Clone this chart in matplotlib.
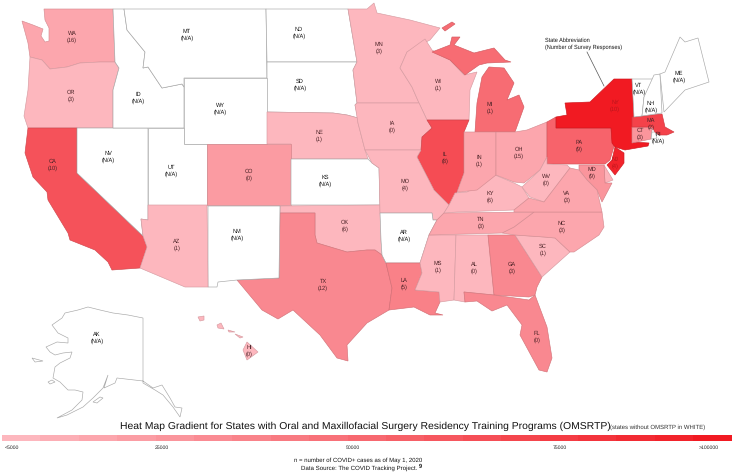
import matplotlib
matplotlib.use('Agg')
import matplotlib.pyplot as plt
from matplotlib.colors import LinearSegmentedColormap, Normalize, to_rgb
from matplotlib.patches import Polygon

plt.rcParams['font.family'] = ['Liberation Sans', 'DejaVu Sans']
plt.rcParams['text.hinting'] = 'none'

# Survey responses per state, None means no OMSRTP in that state
responses = {
    'WA': 16, 'OR': 3, 'CA': 10, 'CO': 0, 'NE': 1, 'OK': 6, 'AZ': 1, 'TX': 12, 'HI': 0,
    'MN': 3, 'WI': 1, 'MI': 1, 'IA': 0, 'IL': 8, 'IN': 1, 'OH': 15, 'MO': 4, 'KY': 6,
    'WV': 0, 'VA': 3, 'PA': 9, 'MD': 9, 'TN': 3, 'NC': 3, 'SC': 1, 'GA': 3, 'AL': 0,
    'MS': 1, 'LA': 5, 'FL': 0, 'NY': 10, 'NJ': 4, 'MA': 2, 'CT': 3,
}
no_program = ['ID', 'MT', 'ND', 'SD', 'WY', 'NV', 'UT', 'KS', 'NM', 'AR', 'AK', 'ME', 'VT', 'NH', 'RI']

# COVID+ cases
cases = {
    'NY': 100000, 'NJ': 90000, 'MA': 72000, 'IL': 66000, 'CA': 63000, 'PA': 53000, 'MI': 48000,
    'LA': 36000, 'TX': 32000, 'GA': 32000, 'FL': 32000, 'MD': 25000, 'CT': 25000, 'CO': 21000,
    'WA': 15000, 'OH': 15000, 'IN': 15000, 'VA': 15000, 'TN': 15000, 'NC': 15000, 'DE': 8000,
    'OR': 5000, 'AZ': 5000, 'NE': 5000, 'OK': 5000, 'MN': 5000, 'WI': 5000, 'IA': 5000,
    'MO': 5000, 'KY': 5000, 'WV': 5000, 'SC': 5000, 'AL': 5000, 'MS': 5000, 'HI': 5000,
}

legend_steps = [5000, 10000, 15000, 20000, 25000, 30000, 35000, 40000, 45000, 50000,
                55000, 60000, 65000, 70000, 75000, 80000, 85000, 90000, 95000]
legend_labels = ['<5000', '25000', '50000', '75000', '>100000']

# State outlines, traced in picture pixels
outlines = {
    'WA': [[(44, 9), (113, 9), (115, 62), (100, 62), (80, 63), (67, 67), (50, 69), (42, 60), (30, 57),
            (28, 43), (22, 21), (33, 25), (43, 29), (41, 36), (45, 42), (49, 41), (49, 28), (45, 20)]],
    'OR': [[(30, 57), (42, 60), (50, 69), (67, 67), (80, 63), (100, 62), (115, 62), (119, 68), (113, 90),
            (113, 128), (28, 128), (24, 116), (28, 90)]],
    'CA': [[(28, 128), (77, 128), (77, 173), (143, 236), (147, 247), (140, 268), (112, 270), (108, 262),
            (95, 250), (70, 240), (68, 233), (48, 200), (47, 192), (33, 177), (25, 153)]],
    'NV': [[(77, 128), (148, 128), (148, 220), (141, 219), (143, 236), (77, 173)]],
    'ID': [[(113, 9), (124, 9), (127, 30), (145, 52), (143, 68), (148, 67), (162, 88), (182, 84), (184, 87),
            (184, 128), (113, 128), (113, 90), (119, 68), (115, 62)]],
    'MT': [[(124, 9), (266, 9), (267, 78), (184, 78), (184, 87), (182, 84), (162, 88), (148, 67), (143, 68),
            (145, 52), (127, 30)]],
    'ND': [[(266, 9), (348, 9), (357, 62), (267, 62)]],
    'SD': [[(267, 62), (357, 62), (353, 70), (357, 103), (355, 105), (358, 118), (347, 115), (333, 113), (267, 112)]],
    'WY': [[(184, 78), (267, 78), (267, 144), (184, 144)]],
    'NE': [[(267, 112), (333, 113), (347, 115), (358, 118), (358, 123), (365, 150), (368, 159), (291, 159),
            (291, 144), (267, 144)]],
    'UT': [[(148, 128), (184, 128), (184, 144), (207, 144), (207, 205), (148, 205)]],
    'CO': [[(207, 144), (291, 144), (291, 205), (207, 205)]],
    'KS': [[(291, 159), (368, 159), (372, 163), (379, 168), (380, 205), (291, 205)]],
    'OK': [[(280, 206), (380, 205), (381, 240), (382, 255), (375, 250), (367, 250), (347, 252), (317, 243),
            (315, 235), (315, 213), (280, 213)]],
    'TX': [[(280, 213), (315, 213), (315, 235), (317, 243), (347, 252), (367, 250), (375, 250), (382, 255),
            (386, 263), (392, 288), (389, 310), (367, 323), (347, 345), (348, 361), (337, 358), (320, 335),
            (293, 310), (278, 319), (262, 310), (237, 280), (279, 278)]],
    'NM': [[(208, 206), (280, 206), (279, 278), (237, 280), (218, 282), (217, 287), (208, 287)]],
    'AZ': [[(148, 205), (207, 205), (208, 287), (185, 287), (140, 268), (147, 247), (143, 236), (141, 219), (148, 220)]],
    'MN': [[(348, 9), (367, 9), (374, 3), (377, 13), (410, 20), (440, 28), (430, 40), (407, 52), (400, 68),
            (412, 87), (419, 103), (357, 103), (353, 70), (357, 62)]],
    'WI': [[(407, 52), (425, 39), (432, 50), (450, 60), (464, 75), (477, 72), (470, 90), (469, 120), (427, 120),
            (419, 103), (412, 87), (400, 68)]],
    'MI': [[(432, 52), (450, 45), (452, 37), (460, 37), (454, 45), (474, 53), (494, 48), (505, 60), (511, 62),
            (487, 63), (479, 65), (465, 75), (450, 60)],
           [(482, 77), (489, 67), (504, 68), (514, 83), (507, 100), (519, 95), (524, 107), (515, 132), (475, 132),
            (477, 103)],
           [(442, 28), (452, 22), (455, 24), (445, 31)]],
    'IA': [[(357, 103), (419, 103), (427, 120), (432, 128), (422, 137), (421, 150), (365, 150), (358, 123), (355, 105)]],
    'IL': [[(427, 120), (469, 120), (464, 132), (464, 173), (457, 192), (449, 205), (434, 190), (417, 157),
            (421, 150), (422, 137), (432, 128)]],
    'MO': [[(365, 150), (421, 150), (417, 157), (434, 190), (449, 205), (444, 213), (437, 220), (433, 220),
            (432, 213), (380, 213), (379, 168), (372, 163)]],
    'AR': [[(380, 213), (432, 213), (433, 220), (437, 220), (429, 235), (420, 263), (386, 263), (382, 255), (381, 240)]],
    'LA': [[(386, 263), (420, 263), (422, 273), (415, 290), (439, 292), (440, 302), (435, 313), (443, 315),
            (430, 315), (414, 307), (389, 310), (392, 288)]],
    'MS': [[(429, 235), (456, 235), (454, 300), (440, 302), (439, 292), (415, 290), (422, 273), (420, 263)]],
    'AL': [[(456, 235), (488, 235), (494, 295), (464, 292), (465, 302), (454, 300)]],
    'GA': [[(488, 235), (515, 235), (542, 277), (537, 287), (535, 295), (529, 297), (494, 295)]],
    'FL': [[(464, 292), (494, 295), (529, 300), (535, 295), (547, 327), (552, 358), (547, 372), (539, 370),
            (520, 335), (522, 325), (507, 305), (492, 311), (477, 301), (465, 302)]],
    'SC': [[(515, 235), (544, 237), (555, 238), (570, 252), (542, 277)]],
    'NC': [[(534, 212), (602, 212), (604, 227), (599, 235), (574, 252), (570, 252), (555, 238), (544, 237),
            (515, 235), (502, 233), (514, 227)]],
    'TN': [[(444, 213), (534, 212), (514, 227), (502, 233), (429, 235), (437, 220)]],
    'KY': [[(449, 205), (455, 193), (467, 192), (495, 175), (514, 183), (522, 187), (529, 198), (514, 210),
            (457, 212), (444, 213)]],
    'IN': [[(464, 132), (496, 132), (496, 175), (477, 190), (460, 192), (457, 192), (464, 173)]],
    'OH': [[(496, 132), (515, 132), (527, 130), (547, 122), (547, 157), (540, 170), (524, 183), (514, 182), (496, 175)]],
    'PA': [[(547, 122), (556, 117), (556, 128), (611, 128), (615, 143), (610, 160), (605, 164), (547, 164)]],
    'NY': [[(556, 128), (556, 117), (567, 115), (565, 103), (590, 102), (614, 79), (632, 79), (634, 113),
            (632, 142), (649, 143), (648, 146), (625, 150), (615, 147), (612, 143), (611, 128)]],
    'NJ': [[(615, 147), (624, 153), (624, 163), (615, 175), (607, 165), (612, 160)]],
    'DE': [[(604, 165), (613, 180), (605, 183)]],
    'MD': [[(579, 165), (604, 165), (605, 183), (612, 183), (602, 202), (597, 190), (587, 180), (579, 170)]],
    'WV': [[(547, 157), (547, 164), (567, 165), (570, 168), (557, 185), (544, 202), (530, 197), (522, 187), (540, 170)]],
    'VA': [[(514, 210), (529, 198), (544, 202), (557, 185), (570, 168), (579, 170), (587, 180), (597, 190), (602, 212), (514, 212)]],
    'CT': [[(632, 127), (652, 127), (651, 139), (632, 143)]],
    'RI': [[(652, 132), (655, 132), (657, 138), (651, 139)]],
    'MA': [[(632, 117), (662, 114), (665, 127), (674, 132), (667, 135), (659, 135), (655, 132), (652, 127), (632, 127)]],
    'VT': [[(632, 79), (654, 79), (644, 97), (642, 116), (634, 117)]],
    'NH': [[(654, 75), (660, 74), (662, 113), (642, 116), (644, 97)]],
    'ME': [[(660, 74), (665, 72), (680, 37), (685, 42), (698, 38), (709, 82), (685, 90), (664, 112)]],
    'AK': [[(143, 318), (128, 315), (113, 313), (100, 310), (88, 307), (78, 310), (65, 313), (62, 318), (52, 325),
            (58, 333), (68, 338), (68, 343), (57, 342), (46, 347), (50, 352), (55, 355), (63, 353), (72, 352),
            (70, 358), (60, 363), (55, 367), (53, 378), (60, 382), (68, 390), (75, 390), (83, 392), (82, 400),
            (72, 410), (57, 418), (67, 415), (83, 407), (93, 398), (103, 388), (108, 375), (104, 388), (115, 383),
            (117, 378), (143, 381), (153, 388), (162, 385), (170, 398), (175, 407), (182, 408), (180, 417),
            (173, 407), (163, 395), (155, 390), (143, 383)],
           [(48, 382), (52, 380), (55, 382), (50, 384)],
           [(32, 358), (43, 361), (35, 362)],
           [(93, 402), (100, 397), (103, 398), (97, 403)]],
    'HI': [[(247, 342), (258, 352), (247, 360), (243, 350)],
           [(235, 334), (243, 337), (240, 338)],
           [(217, 325), (221, 323), (224, 329), (218, 328)],
           [(198, 317), (204, 316), (204, 320), (200, 321)],
           [(228, 330), (235, 332), (229, 332)]],
}

# Where each label sits on the map
label_pos = {
    'WA': (72, 37), 'OR': (71, 96), 'ID': (138, 98), 'MT': (187, 35), 'ND': (299, 33), 'SD': (300, 85),
    'WY': (220, 109), 'NE': (319, 136), 'NV': (108, 157), 'UT': (171, 171), 'CO': (249, 175), 'KS': (325, 181),
    'CA': (53, 165), 'OK': (345, 226), 'NM': (237, 235), 'AZ': (177, 245), 'TX': (323, 285), 'AK': (97, 338),
    'HI': (249, 351), 'MN': (379, 48), 'WI': (438, 85), 'MI': (490, 108), 'IA': (392, 127), 'IL': (445, 158),
    'IN': (479, 161), 'OH': (519, 153), 'MO': (405, 185), 'KY': (490, 197), 'WV': (546, 180), 'VA': (567, 197),
    'PA': (579, 146), 'MD': (592, 173), 'TN': (481, 223), 'NC': (562, 227), 'AR': (404, 236), 'ME': (679, 77),
    'VT': (639, 89), 'NH': (651, 107), 'MA': (651, 124), 'CT': (640, 134), 'RI': (658, 138), 'NY': (615, 106),
    'NJ': (615, 163), 'MS': (438, 267), 'AL': (474, 268), 'GA': (512, 268), 'SC': (543, 250), 'LA': (404, 284),
    'FL': (537, 337),
}

cmap = LinearSegmentedColormap.from_list('cases', ['#FDB7BE', '#F11A22'])
norm = Normalize(5000, 95000)

fig = plt.figure(figsize=(7.34, 4.75), dpi=100)
ax = fig.add_axes([0, 0, 1, 1])
ax.set_xlim(0, 734)
ax.set_ylim(475, 0)
ax.axis('off')

# States, coloured ones get a slightly darker edge of their own colour
for state, parts in outlines.items():
    if state in cases:
        face = cmap(norm(cases[state]))
        edge = tuple(c * 0.85 for c in to_rgb(face))
    else:
        face = 'white'
        edge = '#a6a6a6'
    for part in parts:
        ax.add_patch(Polygon(part, closed=True, facecolor=face, edgecolor=edge, linewidth=0.45))

# State labels
for state, (x, y) in label_pos.items():
    count = '(N/A)' if state in no_program else '(%d)' % responses[state]
    color = '#111111' if state in no_program else '#4a2226'
    if state in ['NY', 'NJ']:
        color = '#b8161c'
    ax.text(x, y, state + '\n' + count, ha='center', va='center', fontsize=4.1, color=color, linespacing=1.2)

# Callout
ax.text(545, 44, 'State Abbreviation\n(Number of Survey Responses)', ha='left', va='center',
        fontsize=4.0, color='#111111', linespacing=1.2)
ax.plot([587, 604], [52, 86], color='#555555', lw=0.5)

# Gradient legend
for i, step in enumerate(legend_steps):
    ax.fill_between([2 + i * 38.4, 2 + (i + 1) * 38.4], 435, 441, color=cmap(norm(step)), lw=0)
for x, label in zip([12, 162, 353, 560, 709], legend_labels):
    ax.text(x, 448, label, ha='center', va='center', fontsize=3.7, color='#222222')

ax.text(120, 426, 'Heat Map Gradient for States with Oral and Maxillofacial Surgery Residency Training Programs (OMSRTP)',
        ha='left', va='center', fontsize=7.46, color='#111111')
ax.text(610, 427, '(states without OMSRTP in WHITE)', ha='left', va='center', fontsize=4.35, color='#333333')
ax.text(358, 460, 'n = number of COVID+ cases as of May 1, 2020', ha='center', va='center', fontsize=4.35, color='#111111')
ax.text(301, 468, 'Data Source: The COVID Tracking Project.', ha='left', va='center', fontsize=4.4, color='#111111')
ax.text(418.5, 466.5, '9', ha='left', va='center', fontsize=4.0, fontweight='bold', color='#111111')

fig.savefig('out.png', dpi=100)
